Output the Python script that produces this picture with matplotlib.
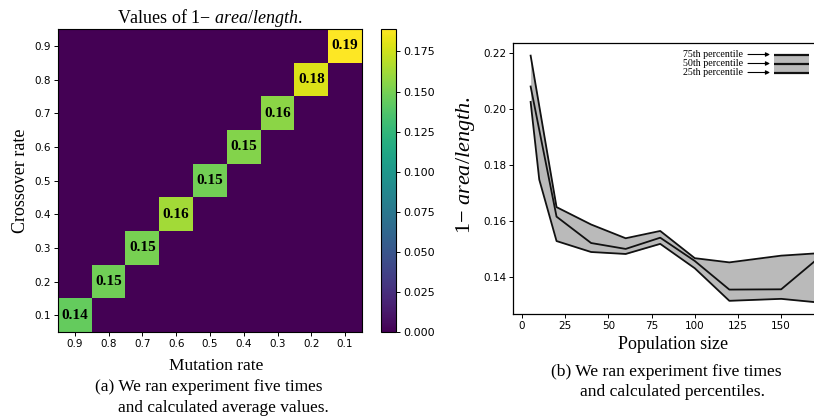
import numpy as np
import matplotlib
matplotlib.use('Agg')
import matplotlib.pyplot as plt

# heatmap data: only cells with crossover + mutation = 1.0 are non-zero
mutation_rates = ['0.9', '0.8', '0.7', '0.6', '0.5', '0.4', '0.3', '0.2', '0.1']
crossover_rates = ['0.1', '0.2', '0.3', '0.4', '0.5', '0.6', '0.7', '0.8', '0.9']
diag_values = [0.144, 0.148, 0.150, 0.163, 0.149, 0.154, 0.156, 0.179, 0.189]

# percentile data (population size experiment)
pop_sizes = [5, 10, 20, 40, 60, 80, 100, 120, 150, 175]
p75 = [0.219, 0.201, 0.165, 0.1588, 0.1539, 0.1565, 0.1468, 0.1453, 0.1477, 0.1487]
p50 = [0.208, 0.1925, 0.1616, 0.1522, 0.1501, 0.1541, 0.1458, 0.1356, 0.1357, 0.1486]
p25 = [0.2025, 0.1748, 0.1529, 0.1490, 0.1483, 0.1519, 0.1432, 0.1316, 0.1323, 0.1308]

SERIF = 'Liberation Serif'
plt.rcParams['mathtext.fontset'] = 'custom'
plt.rcParams['mathtext.rm'] = SERIF
plt.rcParams['mathtext.it'] = SERIF + ':italic'

W, H = 814, 418
fig = plt.figure(figsize=(W / 100, H / 100), dpi=100)


def px_axes(x0, y0, x1, y1):
    # axes placed by pixel box (top-left origin)
    return fig.add_axes([x0 / W, 1 - y1 / H, (x1 - x0) / W, (y1 - y0) / H])


# ---------------- (a) heatmap ----------------
grid = np.zeros((len(crossover_rates), len(mutation_rates)))
for i, v in enumerate(diag_values):
    grid[i, i] = v

ax1 = px_axes(58, 29, 362, 332)
im = ax1.imshow(grid, cmap='viridis', vmin=0, vmax=max(diag_values),
                origin='lower', aspect='auto', interpolation='nearest')
for i, v in enumerate(diag_values):
    ax1.text(i, i, f'{v:.2f}', ha='center', va='center', fontsize=11,
             fontweight='bold', family=SERIF, color='black')
ax1.set_xticks(range(len(mutation_rates)))
ax1.set_xticklabels(mutation_rates)
ax1.set_yticks(range(len(crossover_rates)))
ax1.set_yticklabels(crossover_rates)
ax1.tick_params(labelsize=7.5, length=3, width=0.7, pad=2)
ax1.set_xlabel('Mutation rate', family=SERIF, fontsize=12.5, labelpad=4)
ax1.xaxis.set_label_coords(0.52, -0.085)
ax1.set_ylabel('Crossover rate', family=SERIF, fontsize=13, labelpad=4)
ax1.set_title('Values of 1\u2212 $\\mathit{area/length}$.', family=SERIF,
              fontsize=13, pad=4)
for s in ax1.spines.values():
    s.set_linewidth(0.8)

cax = px_axes(381, 29, 396, 332)
cb = fig.colorbar(im, cax=cax)
cb.set_ticks([0, 0.025, 0.05, 0.075, 0.1, 0.125, 0.15, 0.175])
cb.ax.tick_params(labelsize=8, length=3, width=0.7, pad=2)
cb.outline.set_linewidth(0.8)

fig.text(95 / W, 1 - 387 / H, '(a) We ran experiment five times',
         family=SERIF, fontsize=12.4, ha='left', va='center')
fig.text(118 / W, 1 - 408 / H, 'and calculated average values.',
         family=SERIF, fontsize=12.4, ha='left', va='center')

# ---------------- (b) percentiles ----------------
x_lo, x_hi = -5.2, 205
ax2 = px_axes(513, 43, 513 + (x_hi - x_lo) * 1.728, 314)
ax2.fill_between(pop_sizes, p25, p75, color='#bababa', lw=0)
ax2.plot(pop_sizes, p75, color='#111111', lw=1.3)
ax2.plot(pop_sizes, p50, color='#111111', lw=1.3)
ax2.plot(pop_sizes, p25, color='#111111', lw=1.3)
ax2.set_xlim(x_lo, x_hi)
ax2.set_ylim(0.1269, 0.2235)
ax2.set_xticks([0, 25, 50, 75, 100, 125, 150])
ax2.set_yticks([0.14, 0.16, 0.18, 0.20, 0.22])
ax2.tick_params(labelsize=7.5, length=3, width=0.7, pad=2)
ax2_w = ax2.get_position().width * W
ax2.set_xlabel('Population size', family=SERIF, fontsize=13)
ax2.xaxis.set_label_coords((673 - 513) / ax2_w, -0.083)
ax2.set_ylabel('1\u2212 $\\mathit{area/length}$.', family=SERIF, fontsize=16)
ax2.yaxis.set_label_coords((477 - 513) / ax2_w, 0.55)
for s in ax2.spines.values():
    s.set_linewidth(0.9)

# hand-drawn percentile key
key_rows = [('75th percentile', 54.5), ('50th percentile', 63.5), ('25th percentile', 72.5)]
for label, yy in key_rows:
    fig.text(743 / W, 1 - yy / H, label, family=SERIF, fontsize=7.2,
             ha='right', va='center')
    ax2.annotate('', xy=(770 / W, 1 - yy / H), xytext=(748 / W, 1 - yy / H),
                 xycoords='figure fraction', textcoords='figure fraction',
                 arrowprops=dict(arrowstyle='-|>', lw=0.8, color='black',
                                 mutation_scale=6, shrinkA=0, shrinkB=0))
kax = px_axes(774, 50, 809, 77)
kax.set_xlim(0, 1)
kax.set_ylim(77, 50)
kax.fill_between([0, 1], [54.5, 54.5], [72.5, 72.5], color='#bababa', lw=0)
for label, yy in key_rows:
    kax.plot([0, 1], [yy, yy], color='#111111', lw=1.6)
kax.axis('off')

fig.text(666 / W, 1 - 372 / H, '(b) We ran experiment five times',
         family=SERIF, fontsize=12.6, ha='center', va='center')
fig.text(672 / W, 1 - 392 / H, 'and calculated percentiles.',
         family=SERIF, fontsize=12.6, ha='center', va='center')

fig.savefig('out.png', dpi=100)
